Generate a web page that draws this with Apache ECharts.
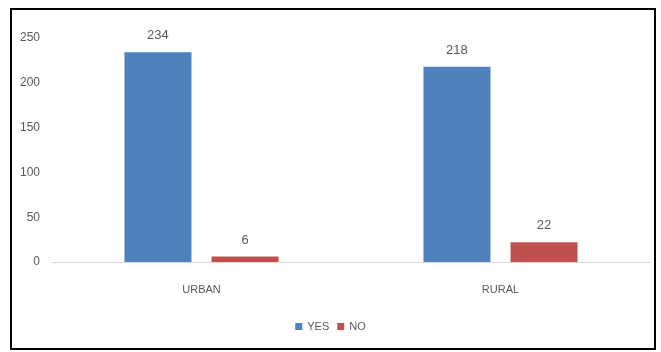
<!DOCTYPE html>
<html>
<head>
<meta charset="utf-8">
<script src="https://cdn.jsdelivr.net/npm/echarts@6/dist/echarts.min.js"></script>
<style>
html,body{margin:0;padding:0;background:#fff;}
#chart{width:661px;height:352px;}
</style>
</head>
<body>
<div id="chart"></div>
<script>
const categories = ["URBAN", "RURAL"];
const yesValues = [234, 218];
const noValues = [6, 22];
const yTicks = [0, 50, 100, 150, 200, 250];

const font = "'Liberation Sans Narrow', 'Liberation Sans', Arial, sans-serif";
const chart = echarts.init(document.getElementById('chart'));
chart.setOption({
  animation: false,
  backgroundColor: '#ffffff',
  textStyle: { fontFamily: font },
  graphic: [{
    type: 'rect',
    shape: { x: 11, y: 9, width: 644, height: 340 },
    style: { fill: 'none', stroke: '#000', lineWidth: 2 },
    silent: true
  }],
  grid: { left: 52, right: 11, top: 38, bottom: 90 },
  legend: {
    bottom: 15,
    left: 'center',
    itemWidth: 7, itemHeight: 7, itemGap: 8,
    icon: 'rect',
    textStyle: { color: '#595959', fontSize: 11, fontFamily: font },
    data: ['YES', 'NO']
  },
  xAxis: {
    type: 'category',
    data: categories,
    axisLine: { lineStyle: { color: '#d9d9d9', width: 1 } },
    axisTick: { show: false },
    axisLabel: { color: '#595959', fontSize: 11, margin: 22, fontFamily: font }
  },
  yAxis: {
    type: 'value',
    min: yTicks[0],
    max: yTicks[yTicks.length - 1],
    interval: 50,
    axisLine: { show: false },
    axisTick: { show: false },
    splitLine: { show: false },
    axisLabel: { color: '#595959', fontSize: 12, margin: 12, fontFamily: font }
  },
  series: [
    {
      name: 'YES', type: 'bar', data: yesValues,
      barWidth: 67, barGap: '30%',
      itemStyle: { color: '#4F81BD' },
      label: { show: true, position: 'top', distance: 10, color: '#595959', fontSize: 13, fontFamily: font }
    },
    {
      name: 'NO', type: 'bar', data: noValues,
      barWidth: 67,
      itemStyle: { color: '#C0504D' },
      label: { show: true, position: 'top', distance: 10, color: '#595959', fontSize: 13, fontFamily: font }
    }
  ]
});
</script>
</body>
</html>
